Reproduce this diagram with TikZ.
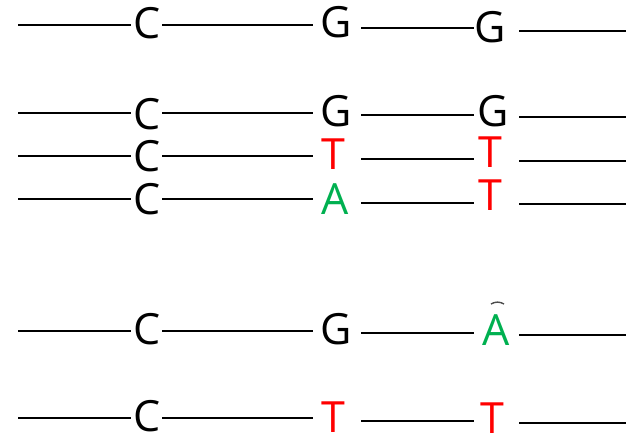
\documentclass[tikz,border=0pt]{standalone}
\usepackage{fontspec}
\setmainfont{Open Sans}
\definecolor{mred}{RGB}{255,0,0}
\definecolor{mgreen}{RGB}{0,176,80}
\tikzset{
  base/.style={inner sep=0pt, font=\fontsize{43}{43}\selectfont},
  strand/.style={line width=2.2pt, black},
}
\begin{document}
\begin{tikzpicture}[x=1pt,y=-1pt]
\useasboundingbox (0,0) rectangle (626,434);
% row 1
\node[base] (c1) at (147,23) {C};
\node[base] (ga1) at (336,22) {G};
\node[base] (gb1) at (490,27) {G};
\draw[strand] (18,25) coordinate (s1) -- (131,25) coordinate (s1b);
\draw[strand] (162,25) coordinate (m1a) -- (313,25) coordinate (m1b);
\draw[strand] (361,28) coordinate (n1a) -- (474,28) coordinate (n1b);
\draw[strand] (519,31) coordinate (r1a) -- (626,31) coordinate (e1);
% row 2
\node[base] (c2) at (147,114) {C};
\node[base] (ga2) at (336,111) {G};
\node[base] (gb2) at (493,111) {G};
\draw[strand] (18,113) coordinate (s2) -- (131,113) coordinate (s2b);
\draw[strand] (162,113) coordinate (m2a) -- (313,113) coordinate (m2b);
\draw[strand] (361,115) coordinate (n2a) -- (474,115) coordinate (n2b);
\draw[strand] (519,117) coordinate (r2a) -- (626,117) coordinate (e2);
% row 3
\node[base] (c3) at (147,156) {C};
\node[base, text=mred] (ga3) at (333,154) {T};
\node[base, text=mred] (gb3) at (490,152) {T};
\draw[strand] (18,156) coordinate (s3) -- (131,156) coordinate (s3b);
\draw[strand] (162,156) coordinate (m3a) -- (313,156) coordinate (m3b);
\draw[strand] (361,159) coordinate (n3a) -- (474,159) coordinate (n3b);
\draw[strand] (519,161) coordinate (r3a) -- (626,161) coordinate (e3);
% row 4
\node[base] (c4) at (147,199) {C};
\node[base, text=mgreen] (ga4) at (335,199) {A};
\node[base, text=mred] (gb4) at (490,195) {T};
\draw[strand] (18,199) coordinate (s4) -- (131,199) coordinate (s4b);
\draw[strand] (162,199) coordinate (m4a) -- (313,199) coordinate (m4b);
\draw[strand] (361,203) coordinate (n4a) -- (474,203) coordinate (n4b);
\draw[strand] (519,204) coordinate (r4a) -- (626,204) coordinate (e4);
% row 5
\node[base] (c5) at (147,329) {C};
\node[base] (ga5) at (336,329) {G};
\node[base, text=mgreen] (gb5) at (496,330) {A};
\draw[black!70, line width=1.4pt] (491,304) .. controls (495,301.5) and (500,301.5) .. (504,304);
\draw[strand] (18,331) coordinate (s5) -- (131,331) coordinate (s5b);
\draw[strand] (162,331) coordinate (m5a) -- (313,331) coordinate (m5b);
\draw[strand] (361,333) coordinate (n5a) -- (474,333) coordinate (n5b);
\draw[strand] (519,335) coordinate (r5a) -- (626,335) coordinate (e5);
% row 6
\node[base] (c6) at (147,416) {C};
\node[base, text=mred] (ga6) at (333,417) {T};
\node[base, text=mred] (gb6) at (492,418) {T};
\draw[strand] (18,418) coordinate (s6) -- (131,418) coordinate (s6b);
\draw[strand] (162,418) coordinate (m6a) -- (313,418) coordinate (m6b);
\draw[strand] (361,421) coordinate (n6a) -- (474,421) coordinate (n6b);
\draw[strand] (519,423) coordinate (r6a) -- (626,423) coordinate (e6);
\end{tikzpicture}
\end{document}
